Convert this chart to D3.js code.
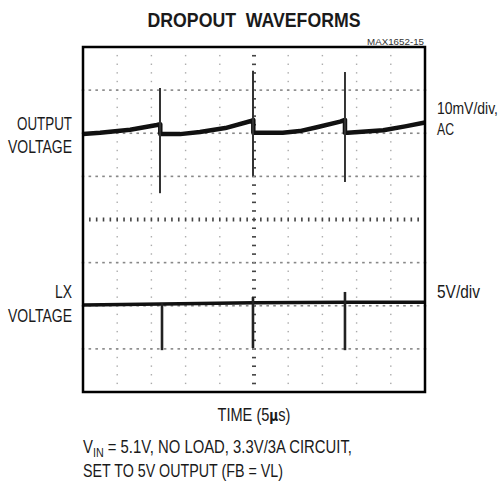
<!DOCTYPE html>
<html>
<head>
<meta charset="utf-8">
<script src="https://cdn.jsdelivr.net/npm/d3@7"></script>
<style>
  body { margin: 0; background: #fff; }
  text { font-family: "Liberation Sans Narrow", "Arial Narrow", "Liberation Sans", sans-serif; fill: #1a1a1a; }
</style>
</head>
<body>
<svg id="chart" width="504" height="483"></svg>
<script>
// time in µs (5µs/div, 10 div), levels in screen divisions (-4..4)
const outTime = [0, 2.5, 6.9, 10.8, 11.3, 11.3, 11.55, 14.2, 17.1, 20.8, 24.7, 24.9,
  24.9, 25.15, 29.2, 31.7, 34.2, 37.6, 38.3, 38.3, 38.7, 43.9, 47.1, 50];
const outLevel = [1.98, 2.01, 2.08, 2.19, 2.21, 1.98, 1.98, 1.98, 2.03, 2.12, 2.29, 2.31,
  2.01, 2.01, 2.01, 2.05, 2.14, 2.27, 2.31, 2.01, 2.01, 2.07, 2.16, 2.25];

const outSpikeTime = [11.26, 24.85, 38.3];
const outSpikeTop = [3.05, 3.45, 3.42];
const outSpikeBottom = [0.61, 1.01, 0.87];

const lxTime = [0, 11.5, 24.9, 38.3, 50];
const lxLevel = [-1.98, -1.96, -1.93, -1.92, -1.92];

const lxSpikeTime = [11.55, 24.85, 38.3];
const lxSpikeTop = [-1.94, -1.80, -1.68];
const lxSpikeBottom = [-3.03, -2.98, -3.03];

const xTicks = d3.range(0, 51, 5);
const yTicks = d3.range(-4, 5, 1);

const title = "DROPOUT  WAVEFORMS";
const figId = "MAX1652-15";
const leftLabels = [["OUTPUT", "VOLTAGE"], ["LX", "VOLTAGE"]];
const rightLabels = [["10mV/div,", "AC"], ["5V/div"]];
const xLabel = ["TIME (5", "\u00b5", "s)"];
const noteLines = ["= 5.1V, NO LOAD, 3.3V/3A CIRCUIT,", "SET TO 5V OUTPUT (FB = VL)"];

const svg = d3.select("#chart");
const margin = { top: 47, right: 79, bottom: 91, left: 83 };
const width = 504, height = 483;

const x = d3.scaleLinear().domain([0, 50]).range([margin.left, width - margin.right]);
const y = d3.scaleLinear().domain([-4, 4]).range([height - margin.bottom, margin.top]);

// squeeze a text horizontally to the width the reference uses (no narrow font here)
function fit(sel, w) {
  const bw = sel.node().getBBox().width;
  const bx = sel.node().getBBox().x;
  const anchor = sel.attr("text-anchor");
  const ax = anchor === "end" ? bx + bw : anchor === "middle" ? bx + bw / 2 : bx;
  sel.attr("transform", `translate(${ax},0) scale(${w / bw},1) translate(${-ax},0)`);
  return sel;
}

function label(tx, ty, str, size, anchor) {
  return svg.append("text")
    .attr("x", tx)
    .attr("y", ty)
    .attr("text-anchor", anchor || "start")
    .style("font-size", size + "px")
    .text(str);
}

// grid: dots at every minor step along each major line
const grid = svg.append("g");
const xMinor = d3.range(0, 50.01, 1);
const yMinor = d3.range(-4, 4.01, 0.2);

xTicks.slice(1, -1).forEach((t) => {
  const center = t === 25;
  grid.selectAll(null)
    .data(yMinor)
    .join("rect")
    .attr("x", x(t) - (center ? 2 : 0.7))
    .attr("y", (d) => y(d) - 0.7)
    .attr("width", center ? 4 : 1.4)
    .attr("height", center ? 1.6 : 1.4)
    .attr("fill", center ? "#444" : "#aaa");
});

yTicks.slice(1, -1).forEach((v) => {
  const center = v === 0;
  grid.selectAll(null)
    .data(xMinor)
    .join("rect")
    .attr("x", (d) => x(d) - (center ? 0.8 : 1.3))
    .attr("y", y(v) - (center ? 2 : 0.8))
    .attr("width", center ? 1.6 : 2.6)
    .attr("height", center ? 4 : 1.6)
    .attr("fill", center ? "#444" : "#888");
});

// traces
const line = d3.line().x((d) => x(d[0])).y((d) => y(d[1]));

svg.append("path")
  .datum(d3.zip(outTime, outLevel))
  .attr("d", line)
  .attr("fill", "none")
  .attr("stroke", "#111")
  .attr("stroke-width", 4.5)
  .attr("stroke-linejoin", "round");

svg.append("g")
  .selectAll("line")
  .data(outSpikeTime)
  .join("line")
  .attr("x1", (d) => x(d))
  .attr("x2", (d) => x(d))
  .attr("y1", (d, i) => y(outSpikeTop[i]))
  .attr("y2", (d, i) => y(outSpikeBottom[i]))
  .attr("stroke", "#333")
  .attr("stroke-width", 2);

svg.append("path")
  .datum(d3.zip(lxTime, lxLevel))
  .attr("d", line)
  .attr("fill", "none")
  .attr("stroke", "#111")
  .attr("stroke-width", 3.5);

svg.append("g")
  .selectAll("line")
  .data(lxSpikeTime)
  .join("line")
  .attr("x1", (d) => x(d))
  .attr("x2", (d) => x(d))
  .attr("y1", (d, i) => y(lxSpikeTop[i]))
  .attr("y2", (d, i) => y(lxSpikeBottom[i]))
  .attr("stroke", "#222")
  .attr("stroke-width", 2.6);

// frame
svg.append("rect")
  .attr("x", x(0))
  .attr("y", y(4))
  .attr("width", x(50) - x(0))
  .attr("height", y(-4) - y(4))
  .attr("fill", "none")
  .attr("stroke", "#000")
  .attr("stroke-width", 2.5);

// texts
const t = label(254, 27, title, 20, "middle")
  .style("font-weight", "bold")
  .style("white-space", "pre");
fit(t, 213);

fit(label(424, 45, figId, 9.5, "end").style("fill", "#333"), 57);

fit(label(72, 130, leftLabels[0][0], 18, "end"), 55);
fit(label(72, 153, leftLabels[0][1], 18, "end"), 64);
fit(label(72, 298, leftLabels[1][0], 18, "end"), 17);
fit(label(72, 322, leftLabels[1][1], 18, "end"), 64);

fit(label(437, 114, rightLabels[0][0], 17), 61);
fit(label(437, 135, rightLabels[0][1], 17), 17);
fit(label(437, 298, rightLabels[1][0], 18), 43);

const tl = label(254, 421, "", 18, "middle");
tl.append("tspan").text(xLabel[0]);
tl.append("tspan").style("font-family", "DejaVu Sans").style("font-weight", "bold").style("font-size", "15px").text(xLabel[1]);
tl.append("tspan").text(xLabel[2]);
fit(tl, 73);

const note = label(83, 453, "", 18);
note.append("tspan").text("V");
note.append("tspan").attr("dy", 4).style("font-size", "13px").text("IN");
note.append("tspan").attr("dy", -4).text(" " + noteLines[0]);
fit(note, 269);

fit(label(83, 477, noteLines[1], 18), 200);
</script>
</body>
</html>
